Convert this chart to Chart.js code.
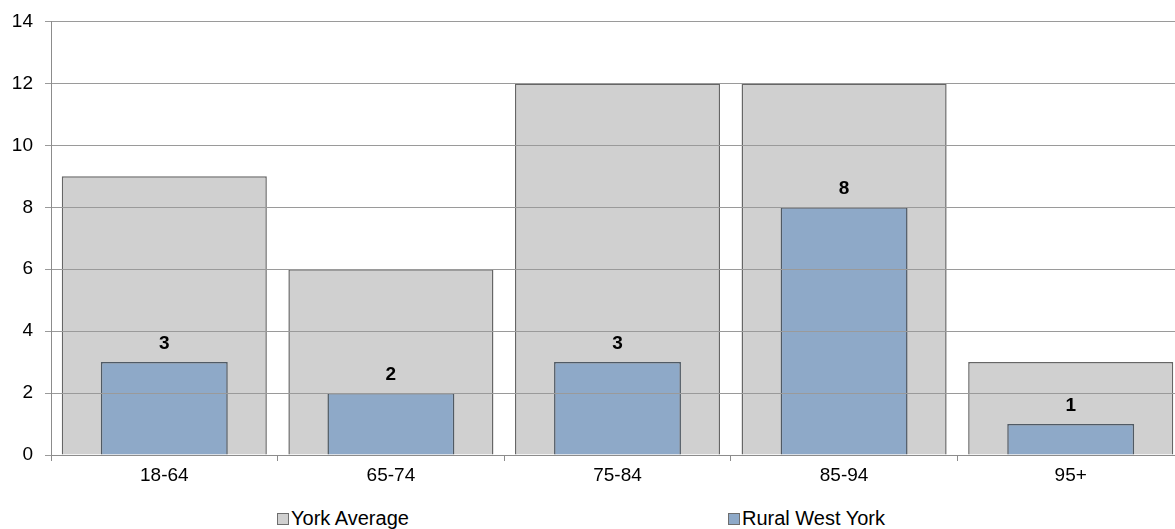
<!DOCTYPE html>
<html>
<head>
<meta charset="utf-8">
<script src="https://cdn.jsdelivr.net/npm/chart.js@4"></script>
<style>
  body { margin: 0; background: #fff; overflow: hidden; }
  #wrap { position: relative; width: 1175px; height: 529px; overflow: hidden; }
  #legend { position: absolute; top: 507px; left: 0; width: 1175px; height: 24px;
            font-family: "Liberation Sans", Arial, sans-serif; font-size: 20px; color: #000; }
  .item { position: absolute; top: 0; white-space: nowrap; line-height: 22px; }
  .box { display: inline-block; width: 10px; height: 10px; border: 1px solid #6e6e6e; margin-right: 2px; vertical-align: 0px; }
</style>
</head>
<body>
<div id="wrap">
  <canvas id="myChart" width="1184" height="490"></canvas>
  <div id="legend"></div>
</div>
<script>
var ageGroups = ["18-64", "65-74", "75-84", "85-94", "95+"];
var yorkAverage = [9, 6, 12, 12, 3];
var ruralWestYork = [3, 2, 3, 8, 1];
var seriesNames = ["York Average", "Rural West York"];
var yTicks = [0, 2, 4, 6, 8, 10, 12, 14];

var fillColors = ["#d0d0d0", "#8ea9c8"];

// labels above the blue bars
var barLabels = {
  id: 'barLabels',
  afterDatasetsDraw: function(chart) {
    var ctx = chart.ctx;
    var meta = chart.getDatasetMeta(1);
    ctx.save();
    ctx.font = "bold 19px 'Liberation Sans', Arial, sans-serif";
    ctx.fillStyle = "#000";
    ctx.textAlign = "center";
    ctx.textBaseline = "alphabetic";
    meta.data.forEach(function(bar, i) {
      ctx.fillText(ruralWestYork[i], bar.x, bar.y - 13);
    });
    ctx.restore();
  }
};

var ctx = document.getElementById("myChart").getContext('2d');
var myChart = new Chart(ctx, {
  type: 'bar',
  plugins: [barLabels],
  data: {
    labels: ageGroups,
    datasets: [{
      label: seriesNames[0],
      data: yorkAverage,
      order: 1,
      backgroundColor: fillColors[0],
      borderColor: "#666666",
      borderWidth: 1.5,
      barPercentage: 0.905,
      categoryPercentage: 1
    }, {
      label: seriesNames[1],
      data: ruralWestYork,
      order: 0,
      backgroundColor: fillColors[1],
      borderColor: "#505a64",
      borderWidth: 1.5,
      barPercentage: 0.56,
      categoryPercentage: 1
    }]
  },
  options: {
    responsive: false,
    animation: false,
    grouped: false,
    layout: { padding: { top: 20, right: 0, left: 0, bottom: 0 } },
    plugins: {
      legend: { display: false },
      tooltip: { enabled: false }
    },
    scales: {
      x: {
        grid: { drawOnChartArea: false, tickLength: 6, color: "#8c8c8c" },
        border: { color: "#8c8c8c", z: 2 },
        ticks: { color: "#000", font: { family: "'Liberation Sans', Arial", size: 19 }, padding: 3 },
        afterFit: function(scale) { scale.height = 35; }
      },
      y: {
        min: 0,
        max: 14,
        afterBuildTicks: function(scale) {
          scale.ticks = yTicks.map(function(v) { return { value: v }; });
        },
        grid: { color: "#9a9a9a", tickLength: 6, z: 1 },
        border: { color: "#8c8c8c", z: 2 },
        ticks: { color: "#000", font: { family: "'Liberation Sans', Arial", size: 19, lineHeight: 1 }, padding: 12 },
        afterFit: function(scale) { scale.width = 51; }
      }
    }
  }
});

// legend below the chart
var legendX = [277, 728];
var legend = document.getElementById("legend");
seriesNames.forEach(function(name, i) {
  var item = document.createElement("div");
  item.className = "item";
  item.style.left = legendX[i] + "px";
  var box = document.createElement("span");
  box.className = "box";
  box.style.background = fillColors[i];
  item.appendChild(box);
  item.appendChild(document.createTextNode(name));
  legend.appendChild(item);
});
</script>
</body>
</html>
